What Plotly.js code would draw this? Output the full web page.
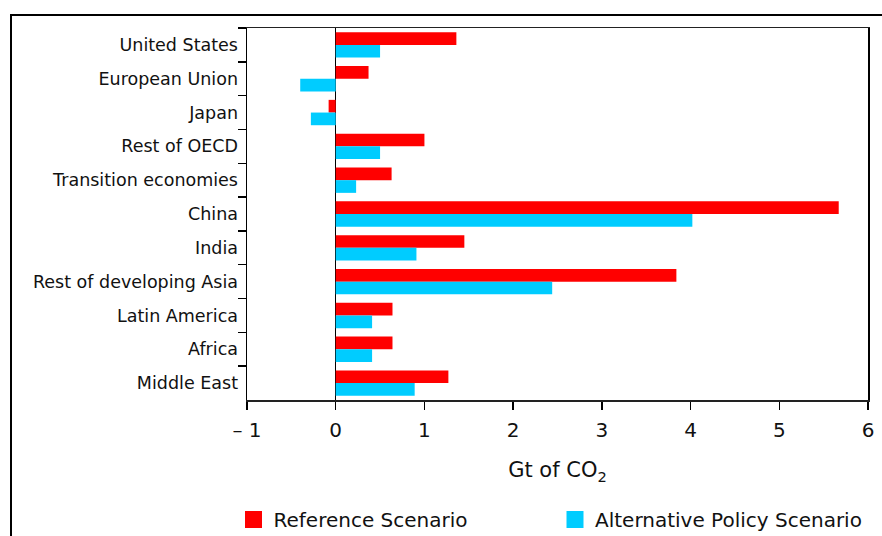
<!DOCTYPE html>
<html>
<head>
<meta charset="utf-8">
<script src="https://cdn.plot.ly/plotly-3.0.1.min.js"></script>
<style>
  html, body { margin: 0; padding: 0; background: #fff; }
  #wrap { position: relative; width: 882px; height: 536px; overflow: hidden; }
  #chart { position: absolute; left: 0; top: 0; width: 882px; height: 536px; }
  #frame { position: absolute; left: 10px; top: 14px; width: 900px; height: 600px;
           border: 2px solid #000; pointer-events: none; box-sizing: border-box; }
</style>
</head>
<body>
<div id="wrap">
  <div id="chart"></div>
  <div id="frame"></div>
</div>
<script>
const regions = ["United States", "European Union", "Japan", "Rest of OECD",
  "Transition economies", "China", "India", "Rest of developing Asia",
  "Latin America", "Africa", "Middle East"];
const referenceScenario = [1.36, 0.37, -0.08, 1.00, 0.63, 5.67, 1.45, 3.84, 0.64, 0.64, 1.27];
const alternativeScenario = [0.50, -0.40, -0.28, 0.50, 0.23, 4.02, 0.91, 2.44, 0.41, 0.41, 0.89];
const xTickValues = [-1, 0, 1, 2, 3, 4, 5, 6];
const xTickLabels = ["\u2013 1", "0", "1", "2", "3", "4", "5", "6"];
const seriesNames = ["Reference Scenario", "Alternative Policy Scenario"];

const FONT = "DejaVu Sans, Liberation Sans, Arial, sans-serif";

const traces = [
  {
    type: "bar", orientation: "h", name: seriesNames[0],
    y: regions, x: referenceScenario,
    marker: { color: "#FF0000", line: { width: 0 } },
    hoverinfo: "x+y"
  },
  {
    type: "bar", orientation: "h", name: seriesNames[1],
    y: regions, x: alternativeScenario,
    marker: { color: "#00CCFF", line: { width: 0 } },
    hoverinfo: "x+y"
  }
];

const layout = {
  width: 882, height: 536,
  margin: { l: 247, r: 14, t: 28, b: 136, pad: 0, autoexpand: false },
  paper_bgcolor: "rgba(0,0,0,0)",
  plot_bgcolor: "#fff",
  barmode: "group",
  bargap: 0.25,
  bargroupgap: 0,
  font: { family: FONT, color: "#111" },
  showlegend: true,
  legend: {
    orientation: "h",
    xref: "paper", yref: "paper",
    x: (233.5 - 247) / 621, xanchor: "left",
    y: (400 - 519.5) / 372, yanchor: "middle",
    font: { family: FONT, size: 20, color: "#111" },
    entrywidth: 276.5, entrywidthmode: "pixels",
    bgcolor: "rgba(0,0,0,0)",
    borderwidth: 0,
    traceorder: "normal"
  },
  xaxis: {
    range: [-1, 6],
    tickvals: xTickValues,
    ticktext: xTickLabels,
    ticks: "outside", ticklen: 8, tickwidth: 1.5, tickcolor: "#000",
    ticklabelstandoff: 3,
    showline: true, linecolor: "#222", linewidth: 1.5, mirror: true,
    showgrid: false,
    zeroline: true, zerolinecolor: "#000", zerolinewidth: 1.5,
    tickfont: { family: FONT, size: 20, color: "#111" },
    title: { text: "Gt of CO<sub>2</sub>", font: { family: FONT, size: 21, color: "#111" }, standoff: 22 },
    fixedrange: true
  },
  yaxis: {
    type: "category",
    autorange: "reversed",
    tickson: "boundaries",
    ticks: "outside", ticklen: 8, tickwidth: 1.5, tickcolor: "#000",
    ticklabelstandoff: 4,
    showline: true, linecolor: "#000", linewidth: 1.5, mirror: true,
    showgrid: false,
    zeroline: false,
    tickfont: { family: FONT, size: 17.5, color: "#111" },
    fixedrange: true
  }
};

Plotly.newPlot("chart", traces, layout, { displayModeBar: false, staticPlot: true }).then(function () {
  document.querySelectorAll("#chart .legend .legendpoints path").forEach(function (p) {
    p.setAttribute("d", "M8.5,8.5H-8.5V-8.5H8.5Z");
  });
});
</script>
</body>
</html>
